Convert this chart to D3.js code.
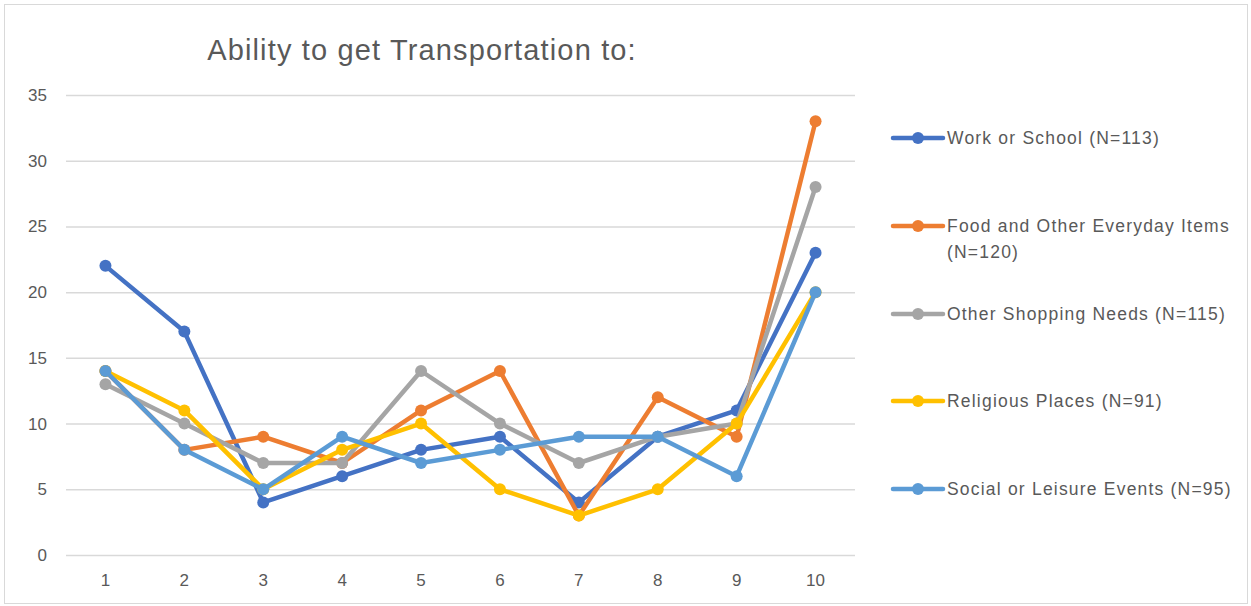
<!DOCTYPE html>
<html>
<head>
<meta charset="utf-8">
<script src="https://cdn.jsdelivr.net/npm/d3@7"></script>
<style>
  body { margin: 0; background: #fff; }
  text { font-family: "Liberation Sans", Arial, sans-serif; fill: #595959; }
</style>
</head>
<body>
<svg id="chart"></svg>
<script>
const width = 1251;
const height = 606;
const margin = { top: 95, right: 396, bottom: 51, left: 66 };

const categories = ["1", "2", "3", "4", "5", "6", "7", "8", "9", "10"];
const yTicks = [0, 5, 10, 15, 20, 25, 30, 35];

const seriesNames = [
    "Work or School (N=113)",
    "Food and Other Everyday Items (N=120)",
    "Other Shopping Needs (N=115)",
    "Religious Places (N=91)",
    "Social or Leisure Events (N=95)"
];
const workSchool = [22, 17, 4, 6, 8, 9, 4, 9, 11, 23];
const foodItems = [14, 8, 9, 7, 11, 14, 3, 12, 9, 33];
const otherShopping = [13, 10, 7, 7, 14, 10, 7, 9, 10, 28];
const religious = [14, 11, 5, 8, 10, 5, 3, 5, 10, 20];
const socialLeisure = [14, 8, 5, 9, 7, 8, 9, 9, 6, 20];
const colors = ["#4472C4", "#ED7D31", "#A5A5A5", "#FFC000", "#5B9BD5"];

const seriesValues = [workSchool, foodItems, otherShopping, religious, socialLeisure];

const svg = d3.select("#chart")
    .attr("width", width)
    .attr("height", height);

// chart frame
svg.append("rect")
    .attr("x", 4.5)
    .attr("y", 4.5)
    .attr("width", width - 8)
    .attr("height", height - 7)
    .attr("fill", "#fff")
    .attr("stroke", "#d9d9d9");

const x = d3.scaleBand()
    .domain(categories)
    .range([margin.left, width - margin.right]);

const y = d3.scaleLinear()
    .domain([0, 35])
    .range([height - margin.bottom, margin.top]);

svg.append("text")
    .attr("x", 422)
    .attr("y", 60)
    .attr("text-anchor", "middle")
    .style("font-size", "29px")
    .style("letter-spacing", "1.15px")
    .text("Ability to get Transportation to:");

// gridlines + y labels
const yAxis = svg.append("g")
    .attr("transform", `translate(${margin.left}, 0)`)
    .call(d3.axisLeft(y).tickValues(yTicks).tickSize(-(width - margin.left - margin.right)).tickPadding(19));
yAxis.select(".domain").remove();
yAxis.selectAll(".tick line").attr("stroke", "#d9d9d9").attr("stroke-width", 1.5);
yAxis.selectAll(".tick text").style("font-size", "17px").style("font-family", "Liberation Sans, Arial, sans-serif").attr("fill", "#595959");

const xAxis = svg.append("g")
    .attr("transform", `translate(0, ${height - margin.bottom})`)
    .call(d3.axisBottom(x).tickSize(0).tickPadding(19));
xAxis.select(".domain").remove();
xAxis.selectAll(".tick text").style("font-size", "17px").style("font-family", "Liberation Sans, Arial, sans-serif").attr("fill", "#595959");

const line = d3.line()
    .x((d, i) => x(categories[i]) + x.bandwidth() / 2)
    .y(d => y(d));

seriesValues.forEach((vals, s) => {
    const g = svg.append("g");
    g.append("path")
        .datum(vals)
        .attr("d", line)
        .attr("fill", "none")
        .attr("stroke", colors[s])
        .attr("stroke-width", 4.5)
        .attr("stroke-linejoin", "round");
    g.selectAll("circle")
        .data(vals)
        .enter()
        .append("circle")
        .attr("cx", (d, i) => x(categories[i]) + x.bandwidth() / 2)
        .attr("cy", d => y(d))
        .attr("r", 6)
        .attr("fill", colors[s]);
});

// legend
const legend = svg.append("g").attr("transform", "translate(893, 0)");
const legendY = [138, 226, 314, 401, 489];
const legendLines = [
    ["Work or School (N=113)"],
    ["Food and Other Everyday Items", "(N=120)"],
    ["Other Shopping Needs (N=115)"],
    ["Religious Places (N=91)"],
    ["Social or Leisure Events (N=95)"]
];
seriesNames.forEach((name, i) => {
    legend.append("line")
        .attr("x1", 0)
        .attr("x2", 50)
        .attr("y1", legendY[i])
        .attr("y2", legendY[i])
        .attr("stroke", colors[i])
        .attr("stroke-width", 4.5)
        .attr("stroke-linecap", "round");
    legend.append("circle")
        .attr("cx", 25)
        .attr("cy", legendY[i])
        .attr("r", 6)
        .attr("fill", colors[i]);
    const t = legend.append("text")
        .attr("x", 54)
        .attr("y", legendY[i] + 6)
        .style("font-size", "17.5px")
        .style("letter-spacing", "1.2px");
    legendLines[i].forEach((ln, k) => {
        t.append("tspan").attr("x", 54).attr("dy", k === 0 ? 0 : 26).text(ln);
    });
});
</script>
</body>
</html>
